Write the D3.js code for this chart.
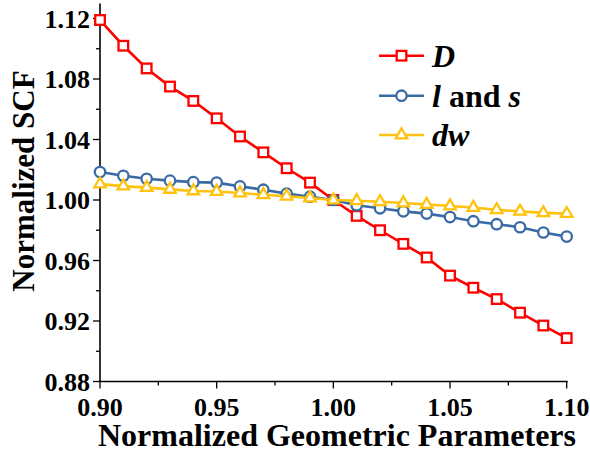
<!DOCTYPE html>
<html>
<head>
<meta charset="utf-8">
<script src="https://cdn.jsdelivr.net/npm/d3@7"></script>
<style>
  html, body { margin: 0; padding: 0; background: #fff; }
  svg { display: block; }
</style>
</head>
<body>
<svg id="chart" width="590" height="451"></svg>
<script>
// Normalized geometric parameter (x) for every sample
const xValues = [0.90, 0.91, 0.92, 0.93, 0.94, 0.95, 0.96, 0.97, 0.98, 0.99, 1.00,
                 1.01, 1.02, 1.03, 1.04, 1.05, 1.06, 1.07, 1.08, 1.09, 1.10];

// Normalized SCF for each swept parameter
const scfD   = [1.119, 1.102, 1.087, 1.075, 1.0655, 1.054, 1.042, 1.0315, 1.021, 1.0115, 1.000,
                0.9895, 0.980, 0.971, 0.962, 0.950, 0.942, 0.9345, 0.9255, 0.917, 0.9087];
const scfLS  = [1.0185, 1.016, 1.014, 1.0128, 1.0118, 1.0115, 1.009, 1.0068, 1.0042, 1.0022, 1.000,
                0.9965, 0.9945, 0.9925, 0.991, 0.9887, 0.986, 0.984, 0.982, 0.9785, 0.9758];
const scfDW  = [1.0105, 1.0092, 1.0082, 1.007, 1.006, 1.0056, 1.0046, 1.0035, 1.0025, 1.0013, 1.000,
                0.9995, 0.9988, 0.998, 0.997, 0.996, 0.995, 0.9935, 0.9925, 0.9915, 0.991];

const xTicks = [0.90, 0.95, 1.00, 1.05, 1.10];
const xMinorTicks = [0.925, 0.975, 1.025, 1.075];
const yTicks = [0.88, 0.92, 0.96, 1.00, 1.04, 1.08, 1.12];
const yMinorTicks = [0.90, 0.94, 0.98, 1.02, 1.06, 1.10];

const FONT = '"Liberation Serif"';
const svg = d3.select("#chart");

function label(sel) {
  return sel.style("font-family", FONT).style("font-weight", "bold").attr("fill", "#000");
}

const x = d3.scaleLinear().domain([0.90, 1.10]).range([100, 566.7]);
const y = d3.scaleLinear().domain([0.88, 1.12]).range([381.5, 18.5]);
const yTop = 1.13;

// axis lines
const axisG = svg.append("g").attr("stroke", "#000").attr("stroke-width", 1.6);
axisG.append("line").attr("x1", x(0.90)).attr("x2", x(0.90)).attr("y1", y(0.88)).attr("y2", y(yTop));
axisG.append("line").attr("x1", x(0.90)).attr("x2", x(1.10) + 1).attr("y1", y(0.88)).attr("y2", y(0.88));

// ticks
svg.append("g").selectAll("line").data(yTicks).join("line")
  .attr("x1", x(0.90) - 7).attr("x2", x(0.90)).attr("y1", d => y(d)).attr("y2", d => y(d))
  .attr("stroke", "#000").attr("stroke-width", 1.3);
svg.append("g").selectAll("line").data(yMinorTicks).join("line")
  .attr("x1", x(0.90) - 4).attr("x2", x(0.90)).attr("y1", d => y(d)).attr("y2", d => y(d))
  .attr("stroke", "#000").attr("stroke-width", 1.3);
svg.append("g").selectAll("line").data(xTicks).join("line")
  .attr("x1", d => x(d)).attr("x2", d => x(d)).attr("y1", y(0.88)).attr("y2", y(0.88) + 7)
  .attr("stroke", "#000").attr("stroke-width", 1.3);
svg.append("g").selectAll("line").data(xMinorTicks).join("line")
  .attr("x1", d => x(d)).attr("x2", d => x(d)).attr("y1", y(0.88)).attr("y2", y(0.88) + 4)
  .attr("stroke", "#000").attr("stroke-width", 1.3);

// tick labels
label(svg.append("g").selectAll("text").data(yTicks).join("text"))
  .attr("x", 90).attr("y", d => y(d)).attr("dy", "0.35em")
  .attr("text-anchor", "end").attr("font-size", 26)
  .text(d => d.toFixed(2));
label(svg.append("g").selectAll("text").data(xTicks).join("text"))
  .attr("x", d => x(d)).attr("y", 416)
  .attr("text-anchor", "middle").attr("font-size", 26)
  .text(d => d.toFixed(2));

// axis titles
label(svg.append("text"))
  .attr("x", 337).attr("y", 446).attr("text-anchor", "middle")
  .attr("font-size", 32).text("Normalized Geometric Parameters");
label(svg.append("text"))
  .attr("transform", "translate(34,181) rotate(-90)").attr("text-anchor", "middle")
  .attr("font-size", 31).text("Normalized SCF");

// series
const series = [
  { name: "D", values: scfD, color: "#FF0000", marker: "square" },
  { name: "l and s", values: scfLS, color: "#3A6BA5", marker: "circle" },
  { name: "dw", values: scfDW, color: "#FFC20E", marker: "triangle" }
];

function drawMarker(g, type, cx, cy, color) {
  if (type === "square") {
    g.append("rect").attr("x", cx - 4.8).attr("y", cy - 4.8).attr("width", 9.6).attr("height", 9.6)
      .attr("fill", "#fff").attr("stroke", color).attr("stroke-width", 2.3);
  } else if (type === "circle") {
    g.append("circle").attr("cx", cx).attr("cy", cy).attr("r", 5.2)
      .attr("fill", "#fff").attr("stroke", color).attr("stroke-width", 2.3);
  } else {
    const s = 11.5, h = s * Math.sqrt(3) / 2;
    g.append("path")
      .attr("d", `M${cx},${cy - h * 2 / 3}L${cx + s / 2},${cy + h / 3}L${cx - s / 2},${cy + h / 3}Z`)
      .attr("fill", "#fff").attr("stroke", color).attr("stroke-width", 2.3);
  }
}

const line = d3.line().x(d => x(d[0])).y(d => y(d[1]));
series.forEach(s => {
  const pts = xValues.map((xv, i) => [xv, s.values[i]]);
  const g = svg.append("g");
  g.append("path").attr("d", line(pts)).attr("fill", "none")
    .attr("stroke", s.color).attr("stroke-width", 2.6);
  pts.forEach(p => drawMarker(g, s.marker, x(p[0]), y(p[1]), s.color));
});

// legend
const legendY = [55.7, 95.7, 135];
series.forEach((s, i) => {
  const g = svg.append("g");
  g.append("line").attr("x1", 379).attr("x2", 424).attr("y1", legendY[i]).attr("y2", legendY[i])
    .attr("stroke", s.color).attr("stroke-width", 2.6);
  drawMarker(g, s.marker, 401.5, legendY[i], s.color);
});
const legendText = [
  [{ t: "D", i: true }],
  [{ t: "l", i: true }, { t: " and ", i: false }, { t: "s", i: true }],
  [{ t: "dw", i: true }]
];
legendText.forEach((parts, k) => {
  const txt = label(svg.append("text"))
    .attr("x", 432).attr("y", legendY[k]).attr("dy", "0.35em")
    .attr("font-size", 32);
  parts.forEach(p => txt.append("tspan").style("font-style", p.i ? "italic" : "normal")
    .style("white-space", "pre").text(p.t));
});
</script>
</body>
</html>
